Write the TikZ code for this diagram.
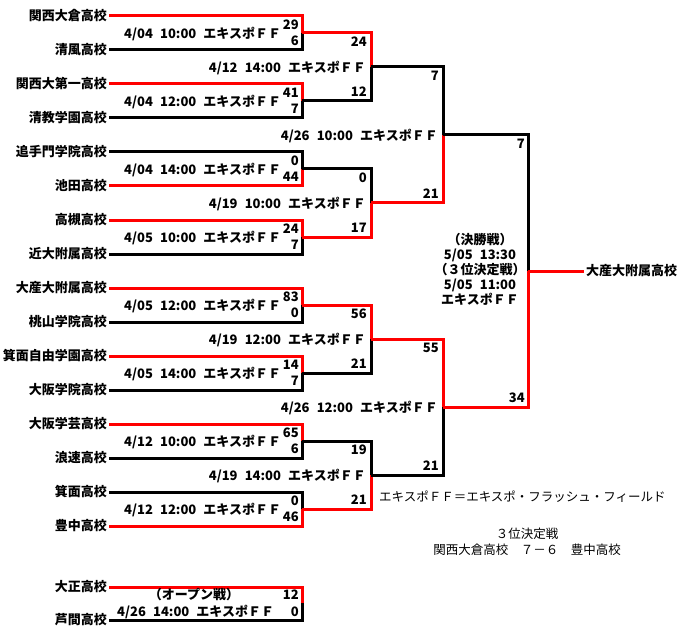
\documentclass[tikz,border=0pt]{standalone}
\usepackage{fontspec}
\setmainfont{Noto Sans CJK JP}
\usepackage{xcolor}
\usepackage{tikz}
\usetikzlibrary{positioning}
\definecolor{winred}{HTML}{FF0000}
\newcommand{\gp}{\hspace{0.55em}}

\begin{document}
\begin{tikzpicture}[x=1pt,y=-1pt,
  team/.style={font=\fontsize{13}{15}\selectfont\bfseries,anchor=east,
               inner xsep=2pt,inner ysep=0pt},
  score/.style={font=\fontsize{13}{15}\selectfont\bfseries,anchor=east,inner sep=0pt},
  date/.style={font=\fontsize{13}{15}\selectfont\bfseries,inner sep=0pt},
  note/.style={font=\fontsize{12.5}{15}\selectfont,inner sep=0pt},
  win/.style={draw=winred,line width=3pt},
  lose/.style={draw=black,line width=3pt},
]
\useasboundingbox (0,0) rectangle (684,636);

% teams
\node[team] (t1)  at (109,16)  {関西大倉高校};
\node[team] (t2)  at (109,50)  {清風高校};
\node[team] (t3)  at (109,84)  {関西大第一高校};
\node[team] (t4)  at (109,118) {清教学園高校};
\node[team] (t5)  at (109,152) {追手門学院高校};
\node[team] (t6)  at (109,186) {池田高校};
\node[team] (t7)  at (109,220) {高槻高校};
\node[team] (t8)  at (109,254) {近大附属高校};
\node[team] (t9)  at (109,288) {大産大附属高校};
\node[team] (t10) at (109,322) {桃山学院高校};
\node[team] (t11) at (109,356) {箕面自由学園高校};
\node[team] (t12) at (109,390) {大阪学院高校};
\node[team] (t13) at (109,424) {大阪学芸高校};
\node[team] (t14) at (109,458) {浪速高校};
\node[team] (t15) at (109,492) {箕面高校};
\node[team] (t16) at (109,526) {豊中高校};
\node[team] (t17) at (109,587) {大正高校};
\node[team] (t18) at (109,620) {芦間高校};
\node[team,anchor=west] (champ) at (584,271) {大産大附属高校};

% junctions
\coordinate (m1) at (302,33);
\coordinate (m2) at (302,101);
\coordinate (m3) at (302,169);
\coordinate (m4) at (302,237);
\coordinate (m5) at (302,305);
\coordinate (m6) at (302,373);
\coordinate (m7) at (302,441);
\coordinate (m8) at (302,509);
\coordinate (q1) at (371,67);
\coordinate (q2) at (371,203);
\coordinate (q3) at (371,339);
\coordinate (q4) at (371,475);
\coordinate (semi1) at (443,135);
\coordinate (semi2) at (443,407);
\coordinate (fin) at (528,271);
\coordinate (open) at (302,603);

% first round
\draw[win]  (t1.east) -| (m1);
\draw[lose] (t2.east) -| (m1);
\draw[win]  (t3.east) -| (m2);
\draw[lose] (t4.east) -| (m2);
\draw[lose] (t5.east) -| (m3);
\draw[win]  (t6.east) -| (m3);
\draw[win]  (t7.east) -| (m4);
\draw[lose] (t8.east) -| (m4);
\draw[win]  (t9.east) -| (m5);
\draw[lose] (t10.east) -| (m5);
\draw[win]  (t11.east) -| (m6);
\draw[lose] (t12.east) -| (m6);
\draw[win]  (t13.east) -| (m7);
\draw[lose] (t14.east) -| (m7);
\draw[lose] (t15.east) -| (m8);
\draw[win]  (t16.east) -| (m8);
% second round
\draw[win]  (m1) -| (q1);
\draw[lose] (m2) -| (q1);
\draw[lose] (m3) -| (q2);
\draw[win]  (m4) -| (q2);
\draw[win]  (m5) -| (q3);
\draw[lose] (m6) -| (q3);
\draw[lose] (m7) -| (q4);
\draw[win]  (m8) -| (q4);
% semifinals and final
\draw[lose] (q1) -| (semi1);
\draw[win]  (q2) -| (semi1);
\draw[win]  (q3) -| (semi2);
\draw[lose] (q4) -| (semi2);
\draw[lose] (semi1) -| (fin);
\draw[win]  (semi2) -| (fin);
\draw[win]  (fin) -- (champ.west);
% open game
\draw[win]  (t17.east) -| (open);
\draw[lose] (t18.east) -| (open);

% scores
\node[score] (sc1a) at (299,25)  {29};
\node[score] (sc1b) at (299,41)  {6};
\node[score] (sc2a) at (299,93)  {41};
\node[score] (sc2b) at (299,109) {7};
\node[score] (sc3a) at (299,161) {0};
\node[score] (sc3b) at (299,177) {44};
\node[score] (sc4a) at (299,229) {24};
\node[score] (sc4b) at (299,245) {7};
\node[score] (sc5a) at (299,297) {83};
\node[score] (sc5b) at (299,313) {0};
\node[score] (sc6a) at (299,365) {14};
\node[score] (sc6b) at (299,381) {7};
\node[score] (sc7a) at (299,433) {65};
\node[score] (sc7b) at (299,449) {6};
\node[score] (sc8a) at (299,501) {0};
\node[score] (sc8b) at (299,517) {46};
\node[score] (sq1a) at (367,42)  {24};
\node[score] (sq1b) at (367,92)  {12};
\node[score] (sq2a) at (367,178) {0};
\node[score] (sq2b) at (367,228) {17};
\node[score] (sq3a) at (367,314) {56};
\node[score] (sq3b) at (367,364) {21};
\node[score] (sq4a) at (367,450) {19};
\node[score] (sq4b) at (367,500) {21};
\node[score] (ss1a) at (439,76)  {7};
\node[score] (ss1b) at (439,194) {21};
\node[score] (ss2a) at (439,348) {55};
\node[score] (ss2b) at (439,466) {21};
\node[score] (sfa)  at (525,144) {7};
\node[score] (sfb)  at (525,398) {34};
\node[score] (soa)  at (299,595) {12};
\node[score] (sob)  at (299,612) {0};

% dates
\node[date,anchor=west] (d1) at (124,34)  {4/04\gp10:00\gp エキスポＦＦ};
\node[date,anchor=west] (d2) at (124,102) {4/04\gp12:00\gp エキスポＦＦ};
\node[date,anchor=west] (d3) at (124,170) {4/04\gp14:00\gp エキスポＦＦ};
\node[date,anchor=west] (d4) at (124,238) {4/05\gp10:00\gp エキスポＦＦ};
\node[date,anchor=west] (d5) at (124,306) {4/05\gp12:00\gp エキスポＦＦ};
\node[date,anchor=west] (d6) at (124,374) {4/05\gp14:00\gp エキスポＦＦ};
\node[date,anchor=west] (d7) at (124,442) {4/12\gp10:00\gp エキスポＦＦ};
\node[date,anchor=west] (d8) at (124,510) {4/12\gp12:00\gp エキスポＦＦ};
\node[date,anchor=east] (dq1) at (366,68)  {4/12\gp14:00\gp エキスポＦＦ};
\node[date,anchor=east] (dq2) at (366,204) {4/19\gp10:00\gp エキスポＦＦ};
\node[date,anchor=east] (dq3) at (366,340) {4/19\gp12:00\gp エキスポＦＦ};
\node[date,anchor=east] (dq4) at (366,476) {4/19\gp14:00\gp エキスポＦＦ};
\node[date,anchor=east] (ds1) at (438,136) {4/26\gp10:00\gp エキスポＦＦ};
\node[date,anchor=east] (ds2) at (438,408) {4/26\gp12:00\gp エキスポＦＦ};
\node[date,align=center] (dfin) at (480,269)
  {（決勝戦）\\5/05\gp13:30\\（３位決定戦）\\5/05\gp11:00\\エキスポＦＦ};
\node[date] (dopen) at (194,595) {（オープン戦）};
\node[date,anchor=west] (dopen2) at (117,612) {4/26\gp14:00\gp エキスポＦＦ};

% notes
\node[note,anchor=west] (legend) at (379,497) {エキスポＦＦ＝エキスポ・フラッシュ・フィールド};
\node[note] (third) at (527,534) {３位決定戦};
\node[note,below=3.5pt of third] (thirdres) {関西大倉高校　７－６　豊中高校};
\end{tikzpicture}
\end{document}
